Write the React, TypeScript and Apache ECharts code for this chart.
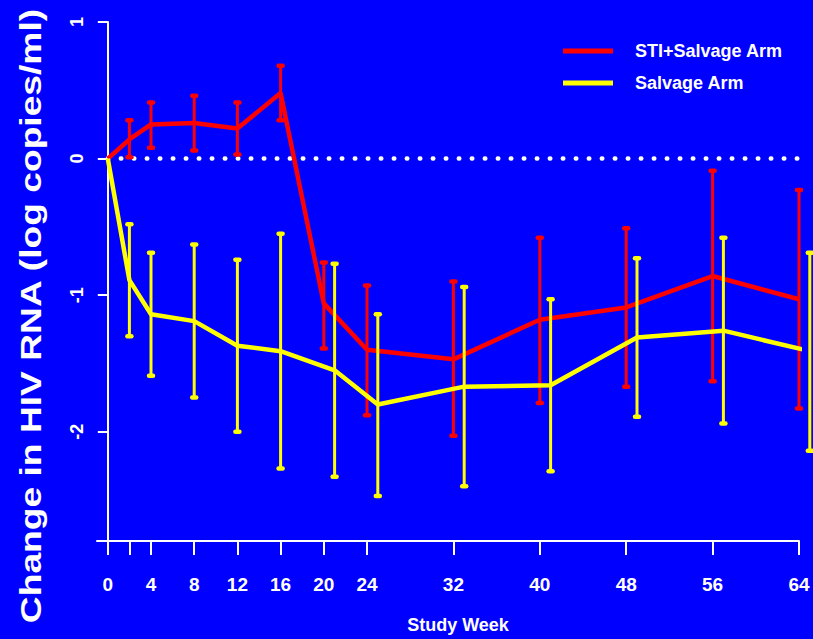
import React, { useEffect, useRef } from "react";
import * as echarts from "echarts";

// STI + Salvage Arm
const stiWeeks = [0, 2, 4, 8, 12, 16, 20, 24, 32, 40, 48, 56, 64];
const stiMean = [0, 0.14, 0.25, 0.26, 0.22, 0.48, -1.06, -1.4, -1.47, -1.18, -1.09, -0.86, -1.03];
const stiUpper = [null, 0.28, 0.41, 0.46, 0.41, 0.68, -0.76, -0.93, -0.9, -0.58, -0.51, -0.09, -0.23];
const stiLower = [null, 0.01, 0.08, 0.06, 0.03, 0.28, -1.39, -1.88, -2.03, -1.79, -1.67, -1.63, -1.83];

// Salvage Arm
const salvWeeks = [0, 2, 4, 8, 12, 16, 21, 25, 33, 41, 49, 57, 65];
const salvMean = [0, -0.89, -1.14, -1.19, -1.37, -1.41, -1.55, -1.8, -1.67, -1.66, -1.31, -1.26, -1.41];
const salvUpper = [null, -0.48, -0.69, -0.63, -0.74, -0.55, -0.77, -1.14, -0.94, -1.03, -0.73, -0.58, -0.69];
const salvLower = [null, -1.3, -1.59, -1.75, -2.0, -2.27, -2.33, -2.47, -2.4, -2.29, -1.89, -1.94, -2.14];

const xTickValues = [0, 2, 4, 8, 12, 16, 20, 24, 32, 40, 48, 56, 64];
const xLabelValues = [0, 4, 8, 12, 16, 20, 24, 32, 40, 48, 56, 64];
const yTickValues = [-2, -1, 0, 1];

const seriesNames = ["STI+Salvage Arm", "Salvage Arm"];
const xTitle = "Study Week";
const yTitle = "Change in HIV RNA (log copies/ml)";

const RED = "#FF0000";
const YELLOW = "#FFFF00";
const BG = "#0000FF";
const SANS = "'Liberation Sans', Arial, sans-serif";

function errorData(weeks: number[], lower: (number | null)[], upper: (number | null)[]) {
  const out: number[][] = [];
  weeks.forEach((w, i) => {
    if (lower[i] != null && upper[i] != null) out.push([w, lower[i] as number, upper[i] as number]);
  });
  return out;
}

function errorRender(color: string) {
  return (params: any, api: any) => {
    const x = api.value(0);
    const lo = api.value(1);
    const hi = api.value(2);
    const top = api.coord([x, hi]);
    const bot = api.coord([x, lo]);
    return {
      type: "group",
      children: [
        { type: "line", shape: { x1: top[0], y1: top[1], x2: bot[0], y2: bot[1] }, style: { stroke: color, lineWidth: 3 } },
        { type: "line", shape: { x1: top[0] - 2, y1: top[1], x2: top[0] + 2, y2: top[1] }, style: { stroke: color, lineWidth: 4.5, lineCap: "round" } },
        { type: "line", shape: { x1: bot[0] - 2, y1: bot[1], x2: bot[0] + 2, y2: bot[1] }, style: { stroke: color, lineWidth: 4.5, lineCap: "round" } },
      ],
    };
  };
}

export default function App() {
  const ref = useRef<HTMLDivElement>(null);
  useEffect(() => {
    document.body.style.margin = "0";
    if (!ref.current) return;
    const chart = echarts.init(ref.current, undefined, { renderer: "svg" });
    chart.setOption({
      animation: false,
      backgroundColor: BG,
      grid: { left: 97, right: 14, top: 22, bottom: 98 },
      legend: {
        data: seriesNames,
        orient: "vertical",
        left: 563,
        top: 38,
        padding: 0,
        itemGap: 6,
        itemWidth: 50,
        itemHeight: 5,
        icon: "rect",
        textStyle: { color: "#fff", fontFamily: SANS, fontWeight: "bold", fontSize: 18, lineHeight: 26, padding: [0, 0, 0, 17] },
      },
      xAxis: {
        type: "value",
        min: -1,
        max: 64,
        name: xTitle,
        nameLocation: "middle",
        nameGap: 75,
        nameTextStyle: { color: "#fff", fontFamily: SANS, fontWeight: "bold", fontSize: 18, padding: [0, 0, 0, 20] },
        axisLine: { onZero: false, lineStyle: { color: "#fff", width: 2 } },
        axisTick: { show: true, customValues: xTickValues, length: 14, lineStyle: { color: "#fff", width: 2 } },
        axisLabel: { customValues: xLabelValues, margin: 34, color: "#fff", fontFamily: SANS, fontWeight: "bold", fontSize: 19 },
        splitLine: { show: false },
      },
      yAxis: {
        type: "value",
        min: -2.8,
        max: 1,
        axisLine: { show: true, onZero: true, lineStyle: { color: "#fff", width: 2 } },
        axisTick: { show: true, customValues: yTickValues, length: 10, lineStyle: { color: "#fff", width: 2 } },
        axisLabel: { customValues: yTickValues, rotate: 90, margin: 11, color: "#fff", fontFamily: SANS, fontWeight: "bold", fontSize: 18 },
        splitLine: { show: false },
      },
      graphic: [
        {
          type: "text",
          x: 30,
          y: 316,
          rotation: Math.PI / 2,
          scaleX: 1.24,
          style: { text: yTitle, fill: "#fff", font: `bold 30px ${SANS}`, align: "center", verticalAlign: "middle" },
        },
      ],
      series: [
        {
          type: "line",
          silent: true,
          data: [[0, 0], [64, 0]],
          showSymbol: false,
          lineStyle: { color: "#fff", width: 4.5, type: [0.5, 12.5], cap: "round" },
          z: 1,
        },
        {
          name: seriesNames[0],
          type: "line",
          data: stiWeeks.map((w, i) => [w, stiMean[i]]),
          showSymbol: false,
          clip: false,
          color: RED,
          lineStyle: { color: RED, width: 4.5 },
          z: 2,
        },
        {
          name: seriesNames[0],
          type: "custom",
          data: errorData(stiWeeks, stiLower, stiUpper),
          encode: { x: 0, y: [1, 2] },
          renderItem: errorRender(RED),
          z: 2,
        },
        {
          name: seriesNames[1],
          type: "line",
          data: salvWeeks.map((w, i) => [w, salvMean[i]]),
          showSymbol: false,
          clip: false,
          color: YELLOW,
          lineStyle: { color: YELLOW, width: 4.5 },
          z: 3,
        },
        {
          name: seriesNames[1],
          type: "custom",
          data: errorData(salvWeeks, salvLower, salvUpper),
          encode: { x: 0, y: [1, 2] },
          renderItem: errorRender(YELLOW),
          clip: false,
          z: 3,
        },
      ],
    });
    return () => chart.dispose();
  }, []);
  return <div ref={ref} style={{ width: 813, height: 639 }} />;
}
